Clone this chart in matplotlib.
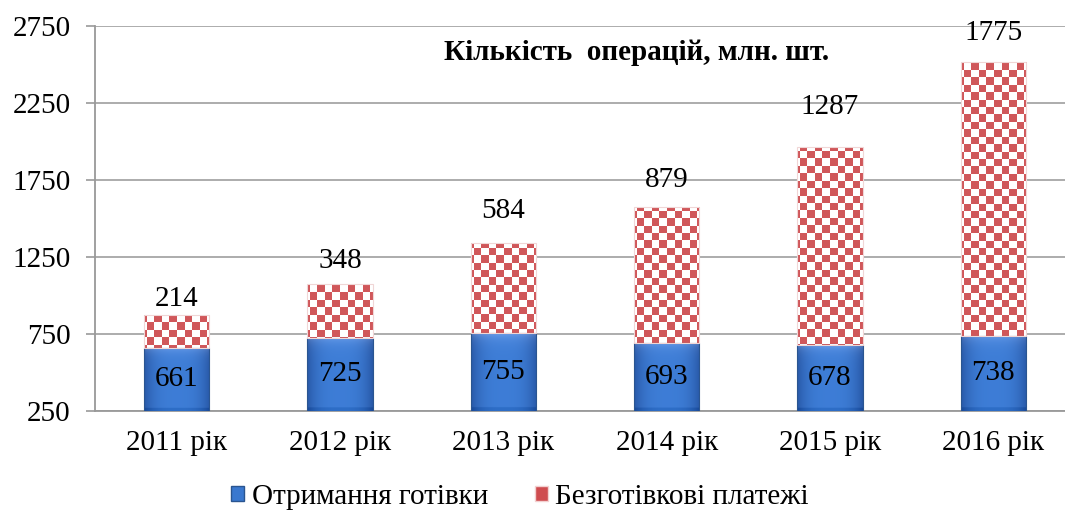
import matplotlib.pyplot as plt
import numpy as np
from matplotlib.patches import Patch
from matplotlib.colors import LinearSegmentedColormap

years = ['2011 рік', '2012 рік', '2013 рік', '2014 рік', '2015 рік', '2016 рік']
cash = [661, 725, 755, 693, 678, 738]
cashless = [214, 348, 584, 879, 1287, 1775]

title = 'Кількість  операцій, млн. шт.'
legend_labels = ['Отримання готівки', 'Безготівкові платежі']

# hand-placed label gaps above the red bars in the original (points)
label_lift = [11.5, 16.5, 23, 20, 29, 21.5]

plt.rcParams['font.family'] = ['Liberation Serif', 'DejaVu Serif']
fs = 21

fig = plt.figure(figsize=(10.65, 5.15), dpi=100)
ax = fig.add_axes([95 / 1065, 104 / 515, 980 / 1065, 385 / 515])

x = np.arange(len(years))
width = 0.40
ymin, ymax = 250, 2750

blue_bars = ax.bar(x, cash, width, color='none', edgecolor='#2a5590', linewidth=0.8, zorder=3)
red_bars = ax.bar(x, cashless, width, bottom=cash, color='none', edgecolor='#f0d6d6', linewidth=0.8, zorder=3)

ax.set_xlim(-0.5, len(years) - 0.5)
ax.set_ylim(ymin, ymax)

# blue bevel-like gradient: darker edges, lighter top
top = np.array([0.42, 0.62, 0.92])
mid = np.array([0.24, 0.49, 0.84])
edge = np.array([0.16, 0.35, 0.66])
hx = np.abs(np.linspace(-1, 1, 60))
vy = np.linspace(0, 1, 60)[:, None]
base = mid + (edge - mid) * (hx[:, None] ** 3)
blue_img = np.clip(base[None, :, :] + (top - mid)[None, None, :] * np.exp(-vy[:, :, None] * 12) * 0.9
                   - 0.06 * (vy[:, :, None] > 0.95), 0, 1)
for b in blue_bars:
    x0 = b.get_x()
    im = ax.imshow(blue_img, aspect='auto', extent=(x0, x0 + b.get_width(), ymin, b.get_y() + b.get_height()),
                   zorder=2.9, interpolation='bilinear')
    im.set_clip_path(b)

# checkerboard fill for cashless bars
cell = 7.4
ncols = int(round(980 / cell))
nrows = int(round(385 / cell))
checker = (np.add.outer(np.arange(nrows), np.arange(ncols)) % 2).astype(float)
red_cmap = LinearSegmentedColormap.from_list('r', ['#ffffff', '#d0575a'])
for b in red_bars:
    im = ax.imshow(checker, cmap=red_cmap, aspect='auto', extent=(-0.5, len(years) - 0.5, ymin, ymax),
                   zorder=2.8, interpolation='nearest')
    im.set_clip_path(b)

ax.set_xlim(-0.5, len(years) - 0.5)
ax.set_ylim(ymin, ymax)

for xi, c, n, lift in zip(x, cash, cashless, label_lift):
    ax.text(xi, (ymin + c) / 2, str(c), ha='center', va='center', fontsize=fs, zorder=5)
    ax.annotate(str(n), (xi, c + n), xytext=(0, lift), textcoords='offset points',
                ha='center', va='center', fontsize=fs, zorder=5)

ax.set_yticks(np.arange(250, 2751, 500))
ax.set_xticks(x)
ax.set_xticklabels(years)
ax.tick_params(axis='y', labelsize=fs, length=6.5, color='#999999', width=1.2, pad=11)
ax.tick_params(axis='x', labelsize=fs, length=0, pad=14)
ax.yaxis.grid(True, color='#a6a6a6', linewidth=1.3, zorder=0)
ax.set_axisbelow(True)
for s in ['top', 'right']:
    ax.spines[s].set_visible(False)
ax.spines['left'].set_color('#999999')
ax.spines['left'].set_linewidth(1.3)
ax.spines['bottom'].set_color('#999999')
ax.spines['bottom'].set_linewidth(1.3)

fig.text(637 / 1065, 1 - 52 / 515, title, ha='center', va='center', fontsize=fs, fontweight='bold')

handles = [Patch(facecolor='#3a78cf', edgecolor='#2a5590'),
           Patch(facecolor='#cf4c4f', edgecolor='#f2d0d0')]
fig.legend(handles, legend_labels, loc='center', bbox_to_anchor=(520 / 1065, 1 - 497 / 515), ncol=2,
           frameon=False, fontsize=fs, handlelength=0.45, handleheight=0.45, handletextpad=0.25,
           columnspacing=1.6, borderpad=0, borderaxespad=0)

fig.savefig('out.png', dpi=100)
